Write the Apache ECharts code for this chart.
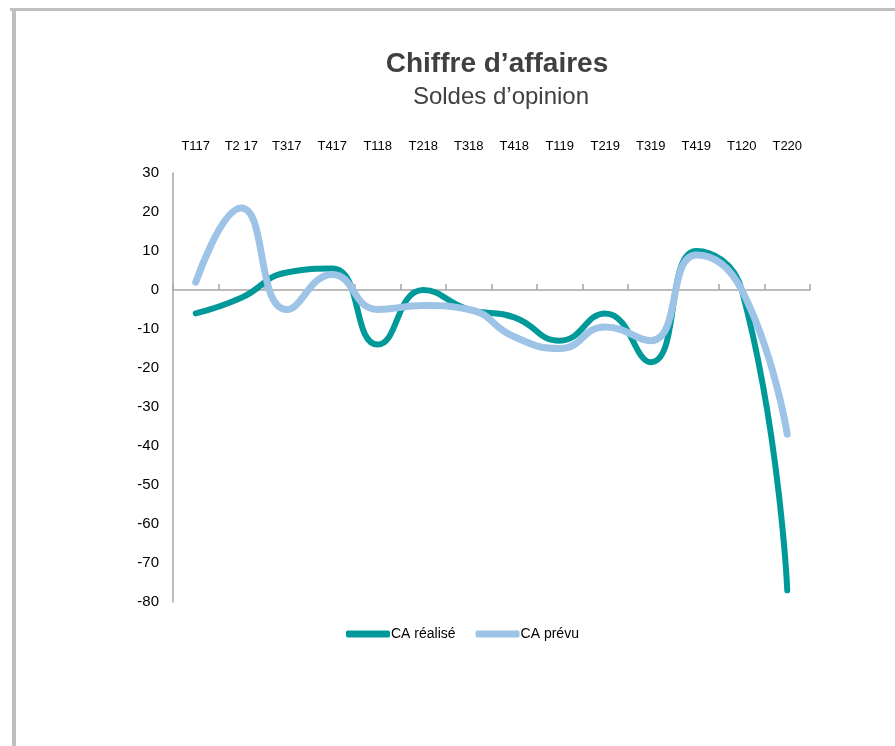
<!DOCTYPE html>
<html>
<head>
<meta charset="utf-8">
<script src="https://cdn.jsdelivr.net/npm/echarts@6/dist/echarts.min.js"></script>
<style>
html,body{margin:0;padding:0;background:#fff;}
#chart{position:absolute;left:0;top:0;width:895px;height:746px;}
</style>
</head>
<body>
<div id="chart"></div>
<script>
const categories = ['T117','T2 17','T317','T417','T118','T218','T318','T418','T119','T219','T319','T419','T120','T220'];
const caRealise = [-6, -2, 4.5, 5.5, -14, 0, -5, -7, -13, -6, -18.5, 10, 0, -77];
const caPrevu = [2, 21, -5, 4, -5, -4, -5, -12, -15, -9.5, -13, 9, 0, -37];
const yTicks = {min: -80, max: 30, interval: 10};

const narrow = "'Liberation Sans Narrow', 'Arial Narrow', 'Liberation Sans', sans-serif";
const chart = echarts.init(document.getElementById('chart'), null, {renderer: 'canvas'});
chart.setOption({
  animation: false,
  backgroundColor: '#fff',
  graphic: [
    {type: 'rect', shape: {x: 10, y: 8, width: 885, height: 3}, style: {fill: '#bfbfbf'}},
    {type: 'rect', shape: {x: 12, y: 8, width: 4, height: 738}, style: {fill: '#bfbfbf'}}
  ],
  title: [
    {text: 'Chiffre d’affaires', left: 492, top: 45, textAlign: 'center',
     textStyle: {fontFamily: "'Liberation Sans', Arial, sans-serif", fontSize: 28, fontWeight: 'bold', color: '#404040'}},
    {text: 'Soldes d’opinion', left: 496, top: 80, textAlign: 'center',
     textStyle: {fontFamily: "'Liberation Sans', Arial, sans-serif", fontSize: 24, fontWeight: 'normal', color: '#404040'}}
  ],
  legend: {
    left: 341, top: 622,
    itemWidth: 44, itemHeight: 7, itemGap: 20,
    icon: 'roundRect',
    textStyle: {fontFamily: narrow, fontSize: 14, color: '#000', padding: [0,0,0,-4]},
    data: ['CA réalisé', 'CA prévu']
  },
  grid: {left: 173, right: 85, top: 173, bottom: 144},
  xAxis: [
    {type: 'category', data: categories, boundaryGap: true, position: 'bottom',
     axisLine: {onZero: true, lineStyle: {color: '#a6a6a6', width: 1.5}},
     axisTick: {show: true, inside: true, length: 6, lineStyle: {color: '#a6a6a6', width: 1.5}},
     axisLabel: {show: false}, splitLine: {show: false}},
    {type: 'category', data: categories, boundaryGap: true, position: 'top',
     axisLine: {show: false, onZero: false}, axisTick: {show: false},
     axisLabel: {interval: 0, margin: 20, fontFamily: narrow, fontSize: 13, color: '#000'}}
  ],
  yAxis: {
    type: 'value', min: yTicks.min, max: yTicks.max, interval: yTicks.interval,
    axisLine: {show: true, lineStyle: {color: '#a6a6a6', width: 1.5}},
    axisTick: {show: false}, splitLine: {show: false},
    axisLabel: {margin: 14, fontFamily: narrow, fontSize: 15, color: '#000'}
  },
  series: [
    {name: 'CA prévu', type: 'line', data: caPrevu, smooth: 0.5, symbol: 'none', z: 2,
     itemStyle: {color: '#9dc3e6'},
     lineStyle: {color: '#9dc3e6', width: 7, cap: 'round', join: 'round'}},
    {name: 'CA réalisé', type: 'line', data: caRealise, smooth: 0.5, symbol: 'none', z: 1,
     itemStyle: {color: '#009999'},
     lineStyle: {color: '#009999', width: 6, cap: 'round', join: 'round'}}
  ]
});
</script>
</body>
</html>
